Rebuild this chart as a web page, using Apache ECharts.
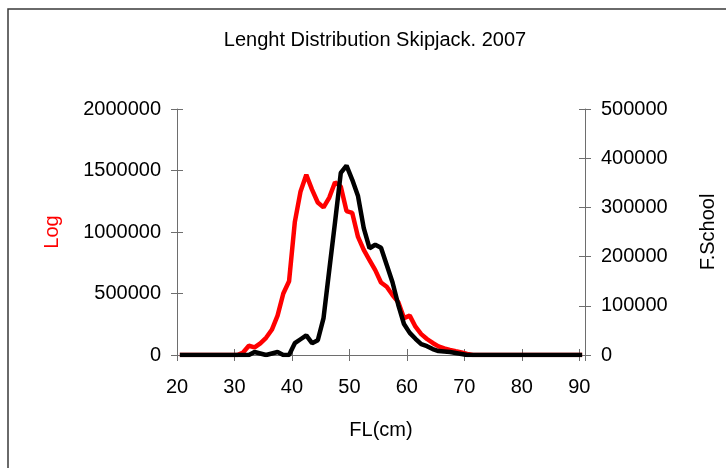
<!DOCTYPE html>
<html>
<head>
<meta charset="utf-8">
<script src="https://cdn.jsdelivr.net/npm/echarts@6/dist/echarts.min.js"></script>
<style>
  html, body { margin: 0; padding: 0; background: #fff; }
  #chart { width: 726px; height: 468px; }
</style>
</head>
<body>
<div id="chart"></div>
<script>
// fork length (cm), mid-points of 1 cm classes
var lengthCm = [
  20.5, 21.5, 22.5, 23.5, 24.5, 25.5, 26.5, 27.5, 28.5, 29.5,
  30.5, 31.5, 32.5, 33.5, 34.5, 35.5, 36.5, 37.5, 38.5, 39.5,
  40.5, 41.5, 42.5, 43.5, 44.5, 45.5, 46.5, 47.5, 48.5, 49.5,
  50.5, 51.5, 52.5, 53.5, 54.5, 55.5, 56.5, 57.5, 58.5, 59.5,
  60.5, 61.5, 62.5, 63.5, 64.5, 65.5, 66.5, 67.5, 68.5, 69.5,
  70.5, 71.5, 72.5, 73.5, 74.5, 75.5, 76.5, 77.5, 78.5, 79.5,
  80.5, 81.5, 82.5, 83.5, 84.5, 85.5, 86.5, 87.5, 88.5, 89.5,
  90.5
];

// Log (left axis)
var logCount = [
  0, 0, 0, 0, 0, 0, 0, 0, 0, 0,
  0, 20000, 75000, 62000, 95000, 140000, 205000, 320000, 500000, 600000,
  1080000, 1330000, 1465000, 1345000, 1240000, 1200000, 1280000, 1405000, 1370000, 1170000,
  1155000, 960000, 854000, 772000, 690000, 590000, 555000, 488000, 430000, 300000,
  320000, 230000, 170000, 130000, 98000, 70000, 53000, 41000, 30000, 20000,
  8000, 0, 0, 0, 0, 0, 0, 0, 0, 0,
  0, 0, 0, 0, 0, 0, 0, 0, 0, 0,
  0
];

// F.School (right axis)
var schoolCount = [
  0, 0, 0, 0, 0, 0, 0, 0, 0, 0,
  0, 0, 0, 6000, 3000, 0, 3000, 6000, 0, 0,
  24000, 32000, 40000, 24000, 30000, 75000, 173000, 270000, 370000, 385000,
  356000, 323000, 258000, 217000, 224000, 218000, 183000, 148000, 102000, 63000,
  45000, 33000, 22000, 18000, 12000, 8000, 7000, 6000, 4000, 2000,
  0, 0, 0, 0, 0, 0, 0, 0, 0, 0,
  0, 0, 0, 0, 0, 0, 0, 0, 0, 0,
  0
];

var xMin = 20, xMax = 91, xStep = 10;
var logMax = 2000000, logStep = 500000;
var schoolMax = 500000, schoolStep = 100000;

var titleText = 'Lenght Distribution Skipjack. 2007';
var font = "'Liberation Sans', Arial, sans-serif";
var axisGray = '#6e6e6e';

function pairs(xs, ys) {
  return xs.map(function (x, i) { return [x, ys[i]]; });
}

var myChart = echarts.init(document.getElementById('chart'), null, { renderer: 'canvas' });

// excel draws ticks crossing the axis: an outside tick on the real axis,
// plus an inside tick on a bare copy of it
function yCopy(pos, max, step) {
  return {
    type: 'value', position: pos, min: 0, max: max, interval: step,
    axisLine: { show: false },
    axisTick: { show: true, inside: true, length: 6, lineStyle: { color: axisGray } },
    axisLabel: { show: false },
    splitLine: { show: false }
  };
}

myChart.setOption({
  animation: false,
  backgroundColor: '#fff',
  grid: { left: 177, right: 141, top: 109, bottom: 113, containLabel: false },
  graphic: [
    {
      type: 'rect',
      shape: { x: 8, y: 9, width: 900, height: 700 },
      style: { fill: 'none', stroke: '#3a3a3a', lineWidth: 1.5 },
      silent: true
    },
    {
      type: 'text',
      x: 375, y: 40,
      style: {
        text: titleText, fill: '#000', font: '20px ' + font,
        textAlign: 'center', textVerticalAlign: 'middle'
      }
    }
  ],
  xAxis: [
    {
      type: 'value', position: 'bottom', min: xMin, max: xMax, interval: xStep,
      name: 'FL(cm)', nameLocation: 'middle', nameGap: 65,
      nameTextStyle: { color: '#000', fontSize: 20, fontFamily: font },
      axisLine: { lineStyle: { color: axisGray, width: 1 } },
      axisTick: { show: true, length: 6, lineStyle: { color: axisGray } },
      axisLabel: {
        margin: 22, color: '#000', fontSize: 20, fontFamily: font,
        formatter: function (v) { return v === xMax ? '' : String(v); }
      },
      splitLine: { show: false }
    },
    {
      type: 'value', position: 'bottom', min: xMin, max: xMax, interval: xStep,
      axisLine: { show: false },
      axisTick: { show: true, inside: true, length: 6, lineStyle: { color: axisGray } },
      axisLabel: { show: false },
      splitLine: { show: false }
    }
  ],
  yAxis: [
    {
      type: 'value', position: 'left', min: 0, max: logMax, interval: logStep,
      name: 'Log', nameLocation: 'middle', nameRotate: 90, nameGap: 115,
      nameTextStyle: { color: '#ff0000', fontSize: 20, fontFamily: font },
      axisLine: { show: true, lineStyle: { color: axisGray, width: 1 } },
      axisTick: { show: true, length: 6, lineStyle: { color: axisGray } },
      axisLabel: {
        margin: 16, color: '#000', fontSize: 20, fontFamily: font,
        formatter: function (v) { return String(v); }
      },
      splitLine: { show: false }
    },
    {
      type: 'value', position: 'right', min: 0, max: schoolMax, interval: schoolStep,
      name: 'F.School', nameLocation: 'middle', nameRotate: 90, nameGap: 113,
      nameTextStyle: { color: '#000', fontSize: 20, fontFamily: font },
      axisLine: { show: true, lineStyle: { color: axisGray, width: 1 } },
      axisTick: { show: true, length: 6, lineStyle: { color: axisGray } },
      axisLabel: {
        margin: 16, color: '#000', fontSize: 20, fontFamily: font,
        formatter: function (v) { return String(v); }
      },
      splitLine: { show: false }
    },
    yCopy('left', logMax, logStep),
    yCopy('right', schoolMax, schoolStep)
  ],
  series: [
    {
      name: 'Log', type: 'line', xAxisIndex: 0, yAxisIndex: 0,
      data: pairs(lengthCm, logCount),
      showSymbol: false, symbol: 'none',
      lineStyle: { color: '#ff0000', width: 4.5 },
      itemStyle: { color: '#ff0000' },
      z: 2
    },
    {
      name: 'F.School', type: 'line', xAxisIndex: 0, yAxisIndex: 1,
      data: pairs(lengthCm, schoolCount),
      showSymbol: false, symbol: 'none',
      lineStyle: { color: '#000000', width: 4.5 },
      itemStyle: { color: '#000000' },
      z: 3
    }
  ]
});

window.addEventListener('resize', function () {
  myChart.resize();
});
</script>
</body>
</html>
